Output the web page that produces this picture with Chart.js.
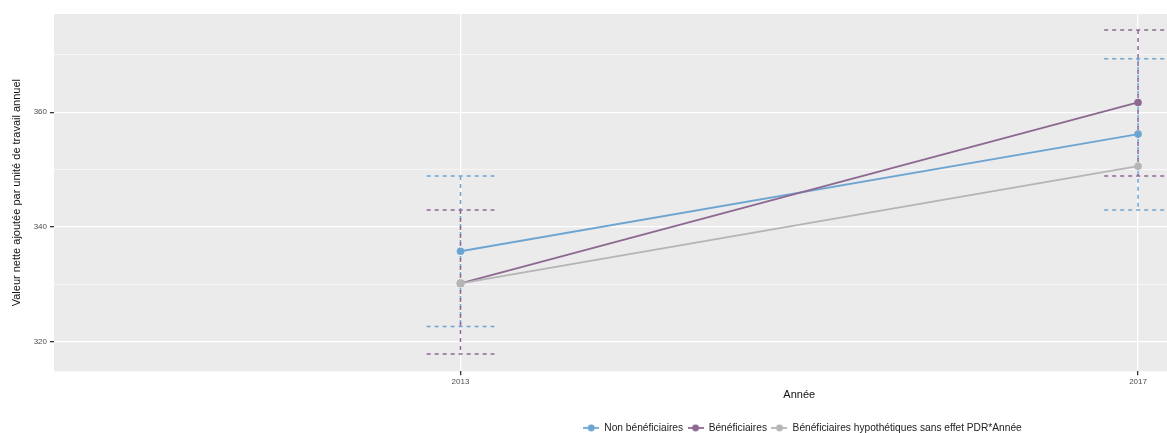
<!DOCTYPE html>
<html>
<head>
<meta charset="utf-8">
<script src="https://cdn.jsdelivr.net/npm/chart.js@4/dist/chart.umd.min.js"></script>
<style>
  html, body { margin: 0; padding: 0; background: #ffffff; }
  #wrap { width: 1167px; height: 433px; }
</style>
</head>
<body>
<div id="wrap"><canvas id="c" width="1167" height="433"></canvas></div>
<script>
// Years and series values
const years = [2013, 2017];
const nonBeneficiaires = [335.8, 356.2];
const beneficiaires = [330.2, 361.7];
const hypothetiques = [330.2, 350.6];

// Confidence bounds (dashed error bars)
const nonBenefLow = [322.7, 343.0];
const nonBenefHigh = [348.9, 369.3];
const benefLow = [317.9, 348.9];
const benefHigh = [343.0, 374.3];

// Axis ticks
const xTicks = [2013, 2017];
const yTicks = [320, 330, 340, 350, 360, 370];
const yLabelled = [320, 340, 360];

const seriesNames = ['Non bénéficiaires', 'Bénéficiaires', 'Bénéficiaires hypothétiques sans effet PDR*Année'];
const xTitle = 'Année';
const xTitleCentre = 2015; // middle of the full year span
const colBlue = '#6DA5D2';
const colPurple = '#8D6891';
const colGrey = '#B5B5B5';

function pts(vals) { return years.map((y, i) => ({ x: y, y: vals[i] })); }

// legend key: short line with a dot in the middle
function legendKey(color) {
  const c = document.createElement('canvas');
  c.width = 16; c.height = 10;
  const g = c.getContext('2d');
  g.strokeStyle = color; g.lineWidth = 1.8;
  g.beginPath(); g.moveTo(0, 5); g.lineTo(16, 5); g.stroke();
  g.fillStyle = color;
  g.beginPath(); g.arc(8, 5, 3.4, 0, Math.PI * 2); g.fill();
  return c;
}

const panelBg = {
  id: 'panelBg',
  beforeDraw(chart) {
    const { ctx, chartArea: a } = chart;
    ctx.save();
    ctx.fillStyle = '#EBEBEB';
    ctx.fillRect(a.left, a.top, a.right - a.left, a.bottom - a.top);
    ctx.restore();
  }
};

// x-axis title, centred on the middle of the year span
const xAxisTitle = {
  id: 'xAxisTitle',
  afterDraw(chart) {
    const { ctx, chartArea: a, scales: { x } } = chart;
    ctx.save();
    ctx.font = '11px "Liberation Sans"';
    ctx.fillStyle = '#111';
    ctx.textAlign = 'center';
    ctx.textBaseline = 'middle';
    ctx.fillText(xTitle, x.getPixelForValue(xTitleCentre), a.bottom + 24);
    ctx.restore();
  }
};

// the legend sits centred under the full (wider) plot, lower than the default spot
const legendShift = {
  id: 'legendShift',
  afterLayout(chart) {
    const lg = chart.legend;
    if (!lg) return;
    lg.left += 219; lg.right += 219;
    lg.top += 16; lg.bottom += 16;
    if (lg.adjustHitBoxes) lg.adjustHitBoxes();
  }
};

const errorBars = {
  id: 'errorBars',
  beforeDatasetsDraw(chart) {
    const { ctx, chartArea: a, scales: { x, y } } = chart;
    const sets = [
      { lo: nonBenefLow, hi: nonBenefHigh, color: colBlue },
      { lo: benefLow, hi: benefHigh, color: colPurple }
    ];
    ctx.save();
    ctx.beginPath();
    ctx.rect(a.left, a.top, a.right - a.left, a.bottom - a.top);
    ctx.clip();
    ctx.lineWidth = 1.5;
    ctx.setLineDash([4, 4]);
    sets.forEach(s => {
      ctx.strokeStyle = s.color;
      years.forEach((yr, i) => {
        const px = x.getPixelForValue(yr);
        const l = x.getPixelForValue(yr - 0.2);
        const r = x.getPixelForValue(yr + 0.2);
        const pLo = y.getPixelForValue(s.lo[i]);
        const pHi = y.getPixelForValue(s.hi[i]);
        ctx.beginPath();
        ctx.moveTo(px, pHi); ctx.lineTo(px, pLo);
        ctx.moveTo(l, pHi); ctx.lineTo(r, pHi);
        ctx.moveTo(l, pLo); ctx.lineTo(r, pLo);
        ctx.stroke();
      });
    });
    ctx.restore();
  }
};

const colors = [colBlue, colPurple, colGrey];
const values = [nonBeneficiaires, beneficiaires, hypothetiques];

new Chart(document.getElementById('c'), {
  type: 'line',
  data: {
    datasets: values.map((v, i) => ({
      label: seriesNames[i],
      data: pts(v),
      order: 3 - i, // later series drawn on top
      borderColor: colors[i],
      backgroundColor: colors[i],
      borderWidth: 1.8,
      pointStyle: 'circle',
      pointRadius: 3.8,
      pointHoverRadius: 3.8,
      pointBorderWidth: 0,
      tension: 0
    }))
  },
  options: {
    responsive: false,
    animation: false,
    layout: { autoPadding: false, padding: { top: 14, right: 0, left: 0, bottom: 6 } },
    plugins: {
      tooltip: { enabled: false },
      legend: {
        position: 'bottom',
        labels: {
          usePointStyle: true,
          pointStyleWidth: 16,
          boxHeight: 10,
          padding: 4.5,
          color: '#222',
          font: { family: 'Liberation Sans', size: 10.2 },
          generateLabels(chart) {
            return chart.data.datasets.map((d, i) => ({
              text: d.label,
              pointStyle: legendKey(colors[i]),
              fillStyle: colors[i],
              strokeStyle: colors[i],
              lineWidth: 0,
              datasetIndex: i,
              fontColor: '#222'
            }));
          }
        }
      }
    },
    scales: {
      x: {
        type: 'linear',
        min: 2010.6,
        max: 2017.171,
        afterBuildTicks(s) { s.ticks = xTicks.map(v => ({ value: v })); },
        afterFit(s) { s.height = 31; s.paddingLeft = 0; s.paddingRight = 0; },
        border: { display: false },
        grid: { color: '#FFFFFF', lineWidth: 1.3, tickColor: '#333', tickLength: 4 },
        ticks: { color: '#4D4D4D', font: { family: 'Liberation Sans', size: 8 }, padding: 2, maxRotation: 0, callback: v => String(v) },
        title: { display: false }
      },
      y: {
        type: 'linear',
        min: 314.9,
        max: 377.1,
        afterBuildTicks(s) { s.ticks = yTicks.map(v => ({ value: v })); },
        afterFit(s) { s.width = 54; },
        border: { display: false },
        grid: {
          color: '#FFFFFF',
          lineWidth: c => (yLabelled.includes(c.tick.value) ? 1.3 : 0.6),
          tickColor: c => (yLabelled.includes(c.tick.value) ? '#333' : 'rgba(0,0,0,0)'),
          tickLength: 4
        },
        ticks: {
          color: '#4D4D4D',
          font: { family: 'Liberation Sans', size: 8 },
          padding: 3,
          callback: v => (yLabelled.includes(v) ? String(v) : '')
        },
        title: { display: true, text: 'Valeur nette ajoutée par unité de travail annuel', color: '#111', font: { family: 'Liberation Sans', size: 11 }, padding: { top: 10, bottom: 0 } }
      }
    }
  },
  plugins: [panelBg, errorBars, legendShift, xAxisTitle]
});
</script>
</body>
</html>
